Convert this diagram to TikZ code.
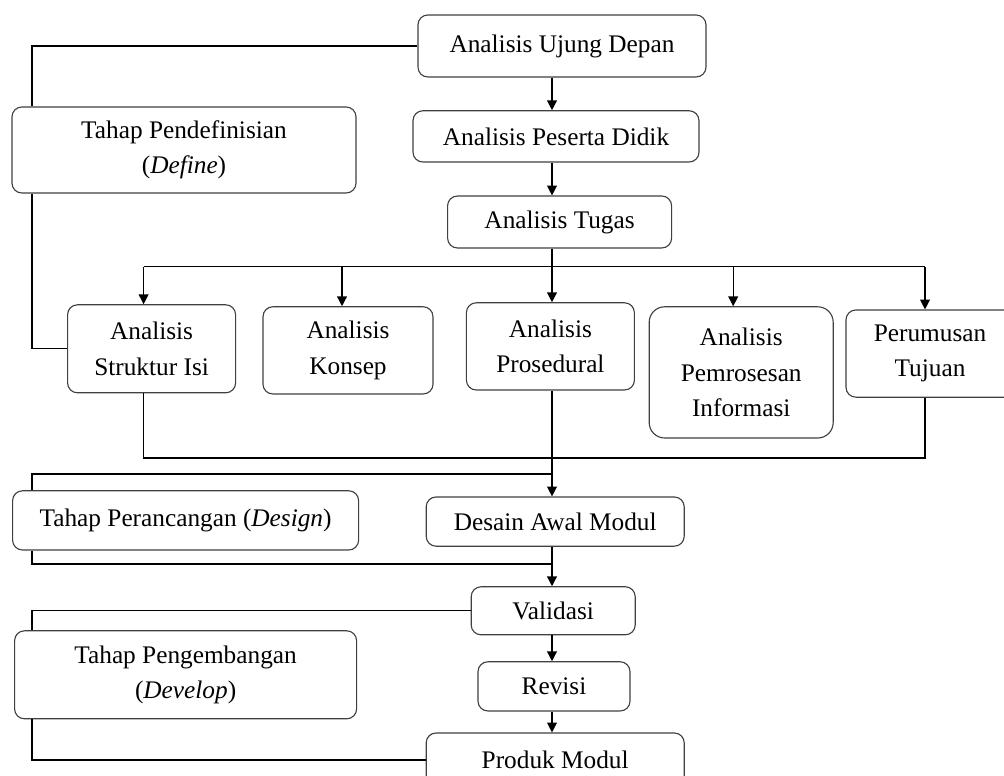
\documentclass[tikz,border=0pt]{standalone}
\usepackage{fontspec}
\setmainfont{Liberation Serif}
\usetikzlibrary{arrows.meta}
\tikzset{
  box/.style={draw=black!75, line width=0.8pt, rounded corners=7pt, fill=white,
    align=center, inner sep=2pt, font=\fontsize{18}{25}\selectfont},
  link/.style={line width=0.9pt}
}
\begin{document}
\begin{tikzpicture}[>={Triangle[length=7pt,width=7pt]}]
\useasboundingbox (0,0) rectangle (25.1,19.4);
% alur tahap pendefinisian
\node[box, minimum width=7.2cm, minimum height=1.55cm] (UD) at (14.05, 18.25) {Analisis Ujung Depan};
\node[box, minimum width=7.15cm, minimum height=1.28cm] (PD) at (13.9, 15.99) {Analisis Peserta Didik};
\node[box, minimum width=5.6cm, minimum height=1.3cm] (AT) at (13.99, 13.85) {Analisis Tugas};
\node[box, minimum width=8.6cm, minimum height=2.15cm] (Def) at (4.6, 15.65) {Tahap Pendefinisian\\(\textit{Define})};
\node[box, minimum width=4.2cm, minimum height=2.2cm] (SI) at (3.79, 10.68) {Analisis\\Struktur Isi};
\node[box, minimum width=4.25cm, minimum height=2.18cm] (KO) at (8.7, 10.64) {Analisis\\Konsep};
\node[box, minimum width=4.2cm, minimum height=2.18cm] (PR) at (13.76, 10.74) {Analisis\\Prosedural};
\node[box, rounded corners=11pt, minimum width=4.6cm, minimum height=3.28cm] (PI) at (18.53, 10.09) {Analisis\\Pemrosesan\\Informasi};
\node[box, minimum width=4.2cm, minimum height=2.18cm] (PT) at (23.25, 10.56) {Perumusan\\Tujuan};
% tahap perancangan dan pengembangan
\node[box, minimum width=8.65cm, minimum height=1.48cm] (Des) at (4.64, 6.39) {Tahap Perancangan (\textit{Design})};
\node[box, minimum width=6.45cm, minimum height=1.23cm] (DA) at (13.88, 6.36) {Desain Awal Modul};
\node[box, minimum width=4.1cm, minimum height=1.2cm] (VA) at (13.83, 4.13) {Validasi};
\node[box, minimum width=8.55cm, minimum height=2.2cm] (Dev) at (4.64, 2.53) {Tahap Pengembangan\\(\textit{Develop})};
\node[box, minimum width=3.8cm, minimum height=1.23cm] (RE) at (13.85, 2.24) {Revisi};
\node[box, minimum width=6.45cm, minimum height=1.35cm] (PM) at (13.88, 0.4) {Produk Modul};
\coordinate (spine) at (13.8, 0);
\coordinate (rail) at (0.8, 0);
\coordinate (split) at (0, 12.73);
\coordinate (join) at (0, 7.95);
\coordinate (dtop) at (13.8, 7.55);
\coordinate (dbot) at (13.8, 5.3);
% panah utama
\draw[link, ->] (UD.south -| spine) -- (PD.north -| spine);
\draw[link, ->] (PD.south -| spine) -- (AT.north -| spine);
\draw[link, ->] (AT.south -| spine) -- (PR.north -| spine);
\draw[link] ([xshift=-2mm]SI.north |- split) -- ([xshift=-1.25mm]PT.north |- split);
\draw[link, ->] ([xshift=-2mm]SI.north |- split) -- ([xshift=-2mm]SI.north);
\draw[link, ->] ([xshift=-1.5mm]KO.north |- split) -- ([xshift=-1.5mm]KO.north);
\draw[link, ->] ([xshift=-2mm]PI.north |- split) -- ([xshift=-2mm]PI.north);
\draw[link, ->] ([xshift=-1.25mm]PT.north |- split) -- ([xshift=-1.25mm]PT.north);
\draw[link] ([xshift=-2mm]SI.south) |- ([xshift=-1.25mm]PT.south |- join) -- ([xshift=-1.25mm]PT.south);
\draw[link, ->] (PR.south -| spine) -- (DA.north -| spine);
\draw[link, ->] (DA.south -| spine) -- (VA.north -| spine);
\draw[link, ->] (VA.south -| spine) -- (RE.north -| spine);
\draw[link, ->] (RE.south -| spine) -- (PM.north -| spine);
% kurung tahap
\draw[link] (UD.west) -| (Def.north -| rail);
\draw[link] (Def.south -| rail) |- (SI.west);
\draw[link] (dtop) -| (Des.north -| rail);
\draw[link] (Des.south -| rail) |- (dbot);
\draw[link] (VA.west) -| (Dev.north -| rail);
\draw[link] (Dev.south -| rail) |- (PM.west);
\end{tikzpicture}
\end{document}
